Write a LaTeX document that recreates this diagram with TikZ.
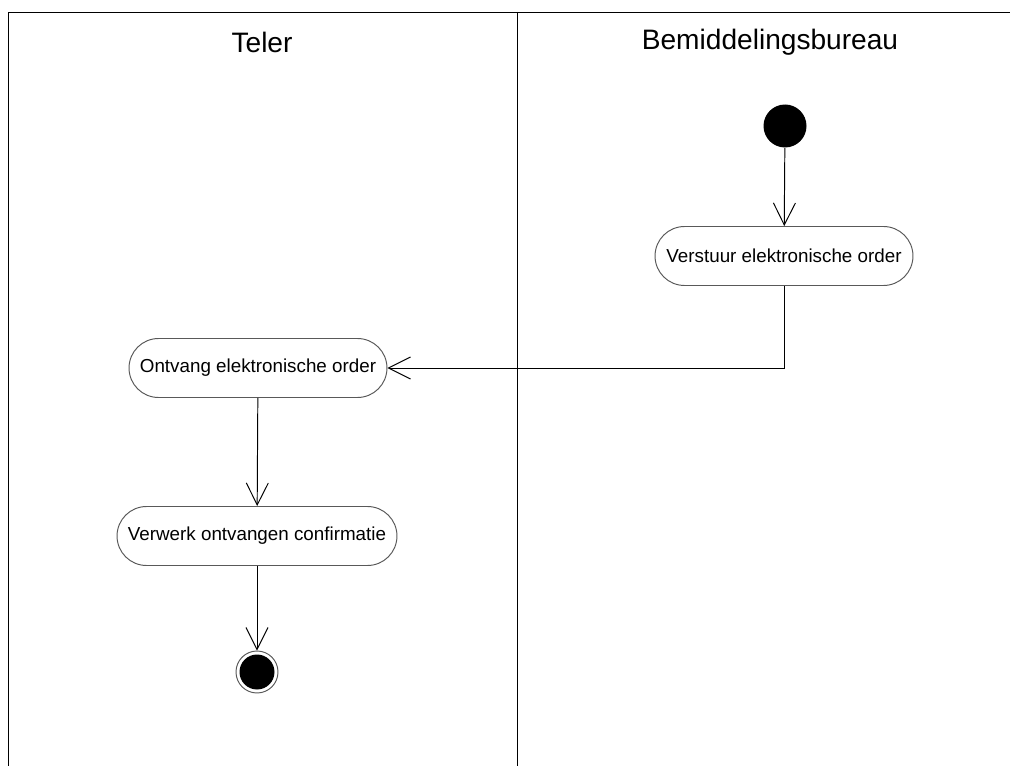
\documentclass[tikz,border=0pt]{standalone}
\usepackage{fontspec}
\setmainfont{Liberation Sans}
\usetikzlibrary{arrows.meta}
\begin{document}
\begin{tikzpicture}[x=0.02cm, y=-0.02cm,
        activity/.style={rectangle, draw=gray!70!black, line width=0.55pt, rounded corners=0.59cm, minimum width=5.16cm, minimum height=1.18cm, inner sep=2pt, font=\fontsize{10.7}{12}\selectfont},
        lane/.style={font=\fontsize{16}{18}\selectfont},
        initial/.style={circle, fill=black, minimum size=0.86cm, inner sep=0pt},
        final/.style={circle, fill=black, minimum size=0.7cm, inner sep=0pt},
        flow/.style={-{Straight Barb[length=0.44cm, width=0.44cm]}, line width=0.55pt}
    ]
        \useasboundingbox (0,0) rectangle (1010,766);

        % Swimlanes
        \draw[line width=0.55pt] (8,766) -- (8,12) -- (1010,12);
        \draw[line width=0.55pt] (517,12) -- (517,766);
        \node[lane] (teler) at (262,42) {Teler};
        \node[lane] (bureau) at (770,42) {Bemiddelingsbureau};

        % Activiteiten
        \node[initial] (start) at (785,126) {};
        \node[activity] (verstuur) at (784,256) {Verstuur elektronische order};
        \node[activity] (ontvang) at (258,368) {Ontvang elektronische order};
        \node[activity, minimum width=5.6cm] (verwerk) at (257,536) {Verwerk ontvangen confirmatie};
        \node[final] (end) at (257,672) {};
        \node[circle, draw=gray!70!black, line width=0.55pt, minimum size=0.84cm] (endring) at (end) {};

        % Overgangen
        \draw[flow] (start) -- (verstuur);
        \draw[flow] (verstuur.south) |- (ontvang.east);
        \draw[flow] (ontvang) -- (verwerk);
        \draw[flow] (verwerk) -- (endring);
    \end{tikzpicture}
\end{document}
